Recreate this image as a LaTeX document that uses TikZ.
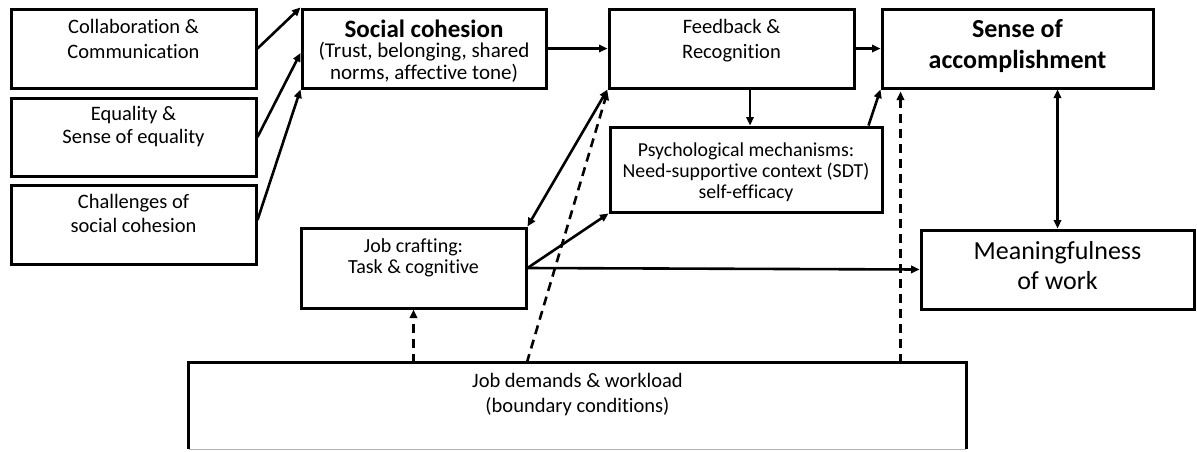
\documentclass[tikz,border=0pt]{standalone}
\usepackage{fontspec}
\setmainfont{Carlito}[Ligatures=NoCommon]
\usetikzlibrary{arrows.meta}
\tikzset{
  box/.style={draw, line width=3pt, inner sep=0pt},
  lbl/.style={inner sep=0pt, align=center, anchor=north, font=\fontsize{20.5}{25}\selectfont},
  arr/.style={line width=2.6pt, -{Triangle[length=8.5pt,width=7.5pt]}},
  barr/.style={line width=2.6pt, {Triangle[length=8.5pt,width=7.5pt]}-{Triangle[length=8.5pt,width=7.5pt]}},
  darr/.style={line width=2.6pt, dash pattern=on 9pt off 6pt, -{Triangle[length=8.5pt,width=7.5pt]}}
}
\begin{document}
\begin{tikzpicture}[x=1pt,y=-1pt]
\useasboundingbox (0,0) rectangle (1197,451);
% boxes
\node[box, minimum width=245pt, minimum height=79pt] (collab) at (133.5,48.5) {};
\node[box, minimum width=245pt, minimum height=78pt] (equal) at (133.5,137) {};
\node[box, minimum width=245pt, minimum height=79pt] (chall) at (133.5,224.5) {};
\node[box, minimum width=244pt, minimum height=79pt] (social) at (424,48.5) {};
\node[box, minimum width=245pt, minimum height=79pt] (feedback) at (731.5,48.5) {};
\node[box, minimum width=271pt, minimum height=79pt] (sense) at (1017.5,48.5) {};
\node[box, minimum width=272pt, minimum height=85pt] (psych) at (746,169.5) {};
\node[box, minimum width=225pt, minimum height=80pt] (jobcraft) at (413.5,268) {};
\node[box, minimum width=273pt, minimum height=79pt] (mean) at (1057.5,269.5) {};
\node[inner sep=0pt, minimum width=777pt, minimum height=86pt] (demands) at (577.5,406) {};
\draw[line width=3pt] (demands.south west) -- (demands.north west) -- (demands.north east) -- (demands.south east);
\draw[line width=0.8pt, black!30] (demands.south west) -- (demands.south east);
% texts
\node[lbl] (collabT) at (133.5,19.1) {Collaboration \&\\Communication};
\node[lbl, font=\fontsize{20.5}{23.5}\selectfont] (equalT) at (133.5,106) {Equality \&\\Sense of equality};
\node[lbl, font=\fontsize{20.5}{24}\selectfont] (challT) at (133.5,194) {Challenges of\\social cohesion};
\node[lbl, font=\bfseries\fontsize{25}{28}\selectfont] (socialT) at (424,20) {Social cohesion};
\node[lbl, font=\fontsize{21}{22}\selectfont] (socialS) at (424,42) {(Trust, belonging, shared\\norms, affective tone)};
\node[lbl] (feedbackT) at (731.5,19.1) {Feedback \&\\Recognition};
\node[lbl, font=\bfseries\fontsize{26}{31}\selectfont] (senseT) at (1017.5,19.3) {Sense of\\accomplishment};
\node[lbl, font=\fontsize{19.8}{21}\selectfont] (psychT) at (746,142.5) {Psychological mechanisms:\\Need-supportive context (SDT)\\self-efficacy};
\node[lbl, font=\fontsize{20}{21}\selectfont] (jobcraftT) at (413.5,238) {Job crafting:\\Task \& cognitive};
\node[lbl, font=\fontsize{26}{30}\selectfont] (meanT) at (1057.5,241.5) {Meaningfulness\\of work};
\node[lbl] (demandsT) at (577.5,373) {Job demands \& workload\\(boundary conditions)};
% connectors
\draw[arr] (collab.east) -- (social.north west);
\draw[arr] (equal.east) -- ([yshift=-4.5pt]social.west);
\draw[arr] ([yshift=4.5pt]chall.east) -- (social.south west);
\draw[arr] (social.east) -- (feedback.west);
\draw[arr] (feedback.east) -- (sense.west);
\coordinate (fb) at ([xshift=18.5pt]feedback.south);
\draw[arr] (fb) -- (fb |- psych.north);
\draw[arr] ([xshift=-15pt]psych.north east) -- (sense.south west);
\draw[barr] (jobcraft.north east) -- (feedback.south west);
\draw[arr] (jobcraft.east) -- (psych.south west);
\draw[arr] (jobcraft.east) -- (mean.west);
\draw[barr] (mean.north) -- (mean.north |- sense.south);
\draw[darr] (jobcraft.south |- demands.north) -- (jobcraft.south);
\coordinate (d2) at ([xshift=338pt]demands.north west);
\draw[darr] (d2) -- ([yshift=-2pt]feedback.south west);
\coordinate (d3) at ([xshift=20pt]sense.south west);
\draw[darr] (d3 |- demands.north) -- ([yshift=-2pt]d3);
\end{tikzpicture}
\end{document}
